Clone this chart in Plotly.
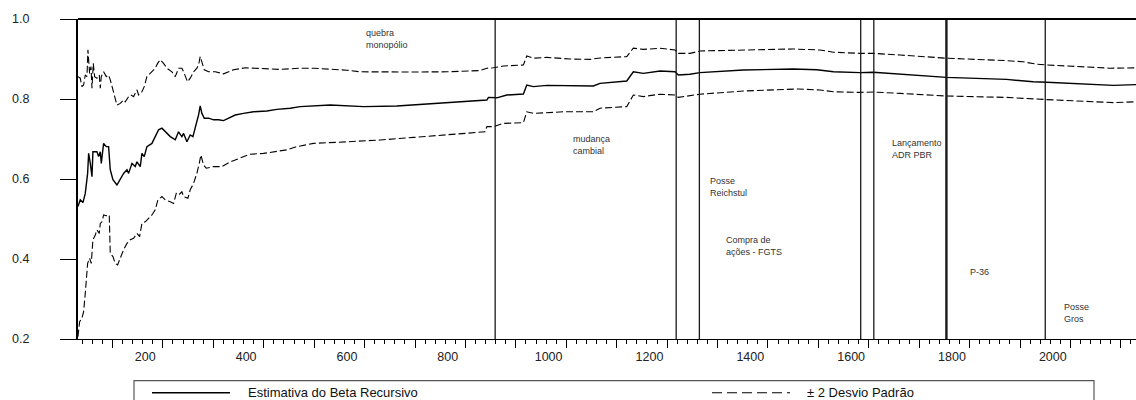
import plotly.graph_objects as go

# ---------------- data ----------------
beta_x = [66.5, 71.1, 76.4, 81.0, 85.7, 87.7, 91.0, 94.3, 96.2, 104.2, 107.5, 110.8, 112.8, 117.4, 122.7,
          127.3, 130.6, 135.9, 143.8, 150.5, 157.0, 163.7, 167.0, 173.6, 180.2, 183.5, 190.1, 193.4, 198.0,
          203.3, 213.2, 219.8, 226.4, 233.0, 239.7, 249.6, 259.5, 266.0, 272.7, 276.0, 282.6, 289.2, 294.5,
          299.1, 302.4, 305.7, 309.0, 312.3, 317.0, 325.6, 335.5, 345.4, 355.3, 368.5, 378.4, 395.0, 414.8,
          441.2, 461.0, 487.5, 507, 567, 633, 699, 765, 831, 877.5, 880.6, 897.3, 917, 950, 956.7, 969.8,
          996.3, 1042.6, 1088.8, 1102, 1155, 1168, 1188, 1221, 1250.8, 1257.4, 1280.5, 1300, 1386, 1485,
          1532, 1565, 1617.5, 1644, 1697, 1789, 1908, 1961, 1988, 2120, 2165]
beta_y = [0.531, 0.548, 0.541, 0.564, 0.614, 0.664, 0.639, 0.606, 0.668, 0.668, 0.656, 0.668, 0.639, 0.689,
          0.681, 0.681, 0.623, 0.598, 0.585, 0.598, 0.614, 0.623, 0.614, 0.639, 0.631, 0.643, 0.631, 0.664,
          0.656, 0.681, 0.689, 0.706, 0.723, 0.727, 0.718, 0.706, 0.698, 0.718, 0.706, 0.714, 0.693, 0.710,
          0.706, 0.727, 0.739, 0.760, 0.783, 0.764, 0.752, 0.752, 0.748, 0.748, 0.746, 0.754, 0.760, 0.764,
          0.768, 0.770, 0.774, 0.777, 0.781, 0.785, 0.781, 0.7825, 0.7875, 0.793, 0.7975, 0.804, 0.803, 0.81,
          0.8125, 0.835, 0.831, 0.834, 0.8325, 0.8325, 0.839, 0.845, 0.868, 0.864, 0.87, 0.868, 0.86, 0.862,
          0.866, 0.8725, 0.875, 0.873, 0.868, 0.866, 0.867, 0.862, 0.854, 0.849, 0.843, 0.842, 0.834, 0.836]

upper_x = [66.5, 71.1, 74.4, 77.7, 81.0, 84.4, 86.3, 89.6, 92.3, 94.3, 96.9, 99.6, 104.2, 108.8, 110.8,
           112.8, 117.4, 122.7, 127.3, 130.6, 135.9, 140.5, 143.8, 150.4, 157.0, 160.3, 167.0, 171.6, 176.9,
           183.5, 186.8, 193.4, 198.0, 203.3, 213.2, 219.8, 224.5, 229.7, 236.3, 243.0, 252.9, 259.5, 266.1,
           272.7, 276.0, 283.9, 289.2, 295.8, 302.4, 305.7, 309.0, 312.3, 317.0, 325.6, 338.8, 355.3, 375.1,
           398.3, 414.8, 441.2, 467.6, 507.3, 533.7, 600, 626, 732, 798, 864, 877.5, 890.5, 910.3, 950, 956.7,
           969.8, 996.3, 1042.6, 1082.2, 1102, 1155, 1168, 1188, 1221, 1250.8, 1257.4, 1280.5, 1300, 1386,
           1485, 1538, 1565, 1617.5, 1644, 1697, 1789, 1908, 1941, 1968, 1988, 2113, 2165]
upper_y = [0.856, 0.852, 0.831, 0.835, 0.860, 0.856, 0.923, 0.864, 0.881, 0.827, 0.889, 0.856, 0.852, 0.860,
           0.827, 0.856, 0.868, 0.856, 0.860, 0.848, 0.823, 0.798, 0.785, 0.789, 0.798, 0.793, 0.806, 0.810,
           0.806, 0.823, 0.810, 0.818, 0.831, 0.856, 0.868, 0.877, 0.889, 0.898, 0.889, 0.877, 0.868, 0.856,
           0.877, 0.877, 0.868, 0.843, 0.852, 0.868, 0.877, 0.885, 0.906, 0.893, 0.873, 0.868, 0.868, 0.863,
           0.873, 0.878, 0.877, 0.875, 0.874, 0.877, 0.877, 0.872, 0.868, 0.8675, 0.868, 0.871, 0.877, 0.878,
           0.8825, 0.885, 0.9075, 0.902, 0.904, 0.900, 0.899, 0.9025, 0.906, 0.927, 0.924, 0.927, 0.9225,
           0.914, 0.914, 0.92, 0.9225, 0.925, 0.9225, 0.917, 0.914, 0.914, 0.91, 0.902, 0.896, 0.893, 0.887,
           0.885, 0.877, 0.878]

lower_x = [66.5, 69.8, 74.4, 77.7, 81.0, 85.7, 89.6, 92.9, 96.2, 100.9, 104.2, 108.8, 110.8, 114.1, 117.4,
           122.7, 128.6, 130.6, 135.9, 140.5, 145.1, 150.4, 157.0, 163.7, 170.3, 176.9, 183.5, 188.8, 193.4,
           200.0, 206.6, 213.2, 219.8, 225.1, 233.0, 239.7, 249.6, 256.2, 261.5, 266.1, 272.7, 276.0, 284.6,
           289.2, 295.8, 302.4, 307.1, 310.4, 315.6, 320.9, 335.5, 352.0, 368.5, 388.3, 408.2, 434.6, 454.4,
           480.9, 500.7, 533.7, 599.9, 666, 732, 771.6, 831, 874, 877.5, 890.5, 910.3, 950, 956.7, 969.8,
           1029, 1088.8, 1102, 1155, 1168, 1188, 1221, 1250.8, 1257.4, 1280.5, 1300, 1386, 1495, 1538, 1565,
           1617.5, 1644, 1697, 1789, 1908, 1968, 1988, 2120, 2165]
lower_y = [0.206, 0.243, 0.252, 0.268, 0.314, 0.389, 0.402, 0.389, 0.448, 0.460, 0.473, 0.464, 0.489, 0.493,
           0.510, 0.508, 0.510, 0.414, 0.406, 0.389, 0.385, 0.402, 0.423, 0.439, 0.448, 0.452, 0.464, 0.456,
           0.489, 0.493, 0.502, 0.510, 0.523, 0.548, 0.556, 0.548, 0.543, 0.539, 0.564, 0.560, 0.568, 0.556,
           0.552, 0.573, 0.589, 0.614, 0.639, 0.660, 0.635, 0.627, 0.631, 0.631, 0.643, 0.652, 0.662, 0.664,
           0.668, 0.673, 0.681, 0.689, 0.693, 0.6975, 0.704, 0.7075, 0.714, 0.718, 0.731, 0.731, 0.739, 0.741,
           0.768, 0.764, 0.768, 0.768, 0.777, 0.781, 0.81, 0.806, 0.812, 0.81, 0.804, 0.8075, 0.812, 0.82,
           0.825, 0.8225, 0.818, 0.8165, 0.8175, 0.814, 0.8075, 0.804, 0.799, 0.7985, 0.791, 0.793]

event_x = [894, 1253, 1299, 1619, 1645, 1789, 1985]
event_labels = ["quebra<br>monopólio", "mudança<br>cambial", "Posse<br>Reichstul",
                "Compra de<br>ações - FGTS", "Lançamento<br>ADR PBR", "P-36", "Posse<br>Gros"]

x_tick_labels = [200, 400, 600, 800, 1000, 1200, 1400, 1600, 1800, 2000]
x_major_ticks = [135 + 100 * k for k in range(21)]
y_tick_labels = [0.2, 0.4, 0.6, 0.8, 1.0]

series_names = ["Estimativa do Beta Recursivo", "± 2 Desvio Padrão"]

# ---------------- layout helpers (positions / styles) ----------------
X_RANGE = [66.6, 2165]
note_pos = [(634, 0.950), (1044, 0.686), (1317, 0.580), (1348, 0.4325),
            (1677, 0.676), (1832, 0.368), (2018, 0.264)]
event_width = [1.3, 1.3, 1.3, 1.3, 1.3, 2.4, 1.3]
FONT = "Liberation Sans, Arial, sans-serif"

fig = go.Figure()
fig.add_trace(go.Scatter(x=upper_x, y=upper_y, mode="lines", showlegend=False, hoverinfo="skip",
                         line=dict(color="#000", width=1.1, dash="7px,3px")))
fig.add_trace(go.Scatter(x=lower_x, y=lower_y, mode="lines", showlegend=False, hoverinfo="skip",
                         line=dict(color="#000", width=1.1, dash="7px,3px")))
fig.add_trace(go.Scatter(x=beta_x, y=beta_y, mode="lines", showlegend=False, hoverinfo="skip",
                         line=dict(color="#000", width=1.4)))
# carrier trace for the secondary axis that draws the long tick marks
fig.add_trace(go.Scatter(x=[X_RANGE[0]], y=[None], xaxis="x2", mode="lines",
                         showlegend=False, hoverinfo="skip"))

shapes = []
for ex, w in zip(event_x, event_width):
    shapes.append(dict(type="line", xref="x", yref="paper", x0=ex, x1=ex, y0=0, y1=1,
                       line=dict(color="#1a1a1a", width=w)))
# top frame line
shapes.append(dict(type="line", xref="paper", yref="paper", x0=0, x1=1, y0=1, y1=1,
                   line=dict(color="#000", width=2)))
# legend box and samples (paper coords)
W, H = 1058.0, 320.0
def px(v):
    return (v - 78) / W
def py(v):
    return (339 - v) / H
shapes.append(dict(type="rect", xref="paper", yref="paper", x0=px(134), x1=px(1094), y0=py(380.7), y1=py(430),
                   line=dict(color="#555", width=1.2)))
shapes.append(dict(type="line", xref="paper", yref="paper", x0=px(152), x1=px(230), y0=py(392.7), y1=py(392.7),
                   line=dict(color="#000", width=1.4)))
shapes.append(dict(type="line", xref="paper", yref="paper", x0=px(712), x1=px(790), y0=py(392.7), y1=py(392.7),
                   line=dict(color="#000", width=1.1, dash="10px,5px")))

annotations = []
for (nx, ny), txt in zip(note_pos, event_labels):
    annotations.append(dict(x=nx, y=ny, xref="x", yref="y", text=txt, showarrow=False,
                            xanchor="left", yanchor="middle", align="left",
                            font=dict(family=FONT, size=9, color="#333")))
annotations.append(dict(x=px(246), y=py(392.5), xref="paper", yref="paper", text=series_names[0],
                        showarrow=False, xanchor="left", yanchor="middle",
                        font=dict(family=FONT, size=13, color="#111")))
annotations.append(dict(x=px(805), y=py(392.5), xref="paper", yref="paper", text=series_names[1],
                        showarrow=False, xanchor="left", yanchor="middle",
                        font=dict(family=FONT, size=13, color="#111")))

fig.update_layout(
    width=1136, height=400,
    margin=dict(l=78, r=0, t=19, b=61),
    paper_bgcolor="white", plot_bgcolor="white",
    font=dict(family=FONT, color="#222"),
    showlegend=False,
    shapes=shapes, annotations=annotations,
    xaxis=dict(range=X_RANGE, tickvals=x_tick_labels, ticktext=[str(v) for v in x_tick_labels],
               ticks="", showgrid=False, zeroline=False, showline=True, linecolor="#000", linewidth=1,
               tickfont=dict(size=12.5, color="#222"), ticklabelstandoff=6,
               minor=dict(ticks="outside", ticklen=4, tick0=135, dtick=20, tickcolor="#000", tickwidth=1,
                          showgrid=False)),
    xaxis2=dict(range=X_RANGE, overlaying="x", anchor="y", side="bottom", tickvals=x_major_ticks,
                ticks="outside", ticklen=8, tickcolor="#000", tickwidth=1, showticklabels=False,
                showgrid=False, zeroline=False, showline=False),
    yaxis=dict(range=[0.2, 1.0], tickvals=y_tick_labels, ticktext=[f"{v:.1f}" for v in y_tick_labels],
               ticks="outside", ticklen=16, tickcolor="#000", tickwidth=1, showgrid=False, zeroline=False,
               showline=True, linecolor="#000", linewidth=2, tickfont=dict(size=12.5, color="#222"),
               ticklabelstandoff=28),
)

fig.write_html("out.html", config={"displayModeBar": False, "staticPlot": True},
               post_script="document.body.style.margin='0px';document.body.style.overflow='hidden';")
